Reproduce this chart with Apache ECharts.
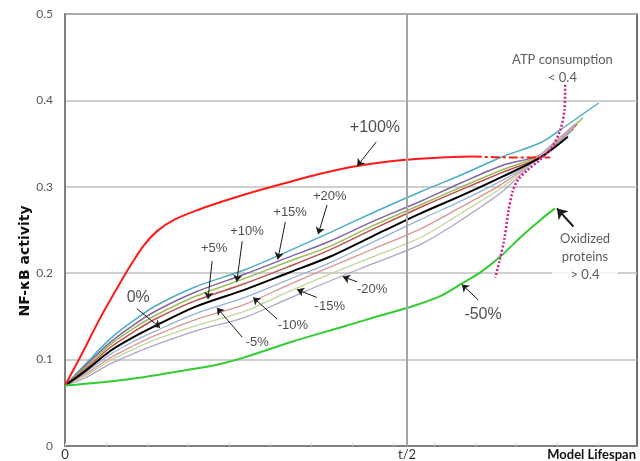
<!DOCTYPE html>
<html><head><meta charset="utf-8">
<script src="https://cdn.jsdelivr.net/npm/echarts@6/dist/echarts.min.js"></script>
<style>html,body{margin:0;padding:0;background:#fff}#c{width:640px;height:461px}</style>
</head><body><div id="c"></div>
<script>
// ---- data (x: model time, t/2 = 50; y: NF-kB activity) ----
const xMax = 83.6;
const halfLife = 50;
const yTicks = [0, 0.1, 0.2, 0.3, 0.4, 0.5];

const plus20  = [[0,.070],[3,.095],[6.6,.124],[10,.145],[13.2,.162],[19,.184],[26.3,.204],[32.5,.225],[38.7,.247],[45,.270],[51.9,.294],[58,.314],[64,.335],[69.5,.351],[72.4,.366],[78,.397]];
const plus15  = [[0,.070],[3,.093],[6.6,.120],[10,.140],[13.2,.156],[19,.178],[26.3,.199],[32.5,.218],[38.7,.237],[45,.260],[51.9,.283],[58,.305],[64,.325],[69.5,.337],[74.3,.367]];
const plus10  = [[0,.070],[3,.091],[6.6,.117],[10,.136],[13.2,.151],[19,.173],[26.3,.194],[32.5,.213],[38.7,.231],[45,.255],[51.9,.279],[58,.300],[64,.320],[69.5,.337],[75.7,.380]];
const plus5   = [[0,.070],[3,.089],[6.6,.114],[10,.132],[13.2,.147],[19,.168],[26.3,.188],[32.5,.207],[38.7,.227],[45,.251],[51.9,.276],[58,.297],[64,.317],[69.5,.335],[74.8,.372]];
const zero    = [[0,.070],[3,.087],[6.6,.110],[10,.126],[13.2,.139],[19,.161],[26.3,.181],[32.5,.200],[38.7,.219],[45,.243],[51.9,.269],[58,.290],[64,.312],[69.5,.334],[73.5,.358]];
const minus5  = [[0,.070],[3,.085],[6.6,.106],[10,.121],[13.2,.133],[19,.153],[26.3,.172],[32.5,.192],[38.7,.212],[45,.236],[51.9,.262],[58,.284],[64,.308],[69.5,.334],[74.2,.366]];
const minus10 = [[0,.070],[3,.083],[6.6,.102],[10,.116],[13.2,.128],[19,.146],[26.3,.164],[32.5,.186],[38.7,.207],[45,.228],[51.9,.251],[58,.277],[64,.304],[69.5,.335],[74.5,.370]];
const minus15 = [[0,.070],[3,.081],[6.6,.099],[10,.112],[13.2,.123],[19,.139],[26.3,.156],[32.5,.178],[38.7,.199],[45,.219],[51.9,.241],[58,.270],[64,.300],[69.5,.336],[75,.376]];
const minus20 = [[0,.070],[3,.079],[6.6,.095],[10,.107],[13.2,.117],[19,.133],[26.3,.149],[32.5,.170],[38.7,.191],[45,.211],[51.9,.233],[58,.262],[64,.295],[69.5,.337],[74.5,.372]];
const plus100 = [[0,.070],[2.5,.107],[5,.146],[7.5,.181],[9.5,.208],[11.5,.232],[13.5,.249],[16,.262],[19.7,.274],[23,.283],[27.5,.294],[32.5,.305],[37.3,.315],[42.7,.324],[49.4,.331],[55,.334],[59.6,.335]];
const plus100Dashed = [[59.6,.335],[65,.334],[70.9,.334]];
const minus50 = [[0,.070],[9.1,.077],[18.7,.089],[22.7,.095],[26,.102],[33.3,.121],[40.6,.138],[46.1,.151],[50.9,.162],[55,.174],[58.2,.189],[60.7,.201],[63.6,.219],[66.5,.241],[69.4,.261],[71.6,.275]];
const atpLimit = [[73.1,.418],[73.0,.389],[72.4,.366],[71.2,.346],[69.4,.331],[67.7,.320],[66.2,.308],[65.4,.294],[64.8,.271],[64.2,.239],[63.5,.214],[62.9,.195]];

// annotation texts: [x, y, text, fontSize]
const labelTexts = [
  [45.3,.368,'+100%',16],[10.7,.172,'0%',16],[21.8,.229,'+5%',13],[26.6,.248,'+10%',13],
  [32.9,.270,'+15%',13],[38.7,.289,'+20%',13],[28.1,.120,'-5%',13],[33.3,.139,'-10%',13],
  [38.7,.161,'-15%',13],[44.9,.181,'-20%',13],[61.1,.152,'-50%',16]
];
// arrows: [x1, y1, x2, y2]
const arrows = [
  [45.5,.352,42.7,.324],[10.5,.159,13.9,.137],[21.5,.214,20.9,.170],[25.9,.237,25.1,.190],
  [32.2,.259,31.1,.216],[38.3,.279,37.0,.245],[25.9,.126,22.2,.160],[31.0,.147,27.5,.172],
  [36.8,.172,33.9,.181],[42.7,.190,40.6,.196],[60.4,.169,58.0,.187]
];
const oxArrow = [74.3,.254,71.9,.275];
const oxText = [76.0,.219,'Oxidized\nproteins\n> 0.4'];
const atpText = [72.7,.437,'ATP consumption\n< 0.4'];

const bundle = [
  ['+20%', plus20, '#4bacc6', 1.5],
  ['+15%', plus15, '#8064a2', 1.5],
  ['+10%', plus10, '#9bbb59', 1.5],
  ['+5%', plus5, '#c0504d', 1.5],
  ['-5%', minus5, '#95b3d7', 1.3],
  ['-10%', minus10, '#d99694', 1.3],
  ['-15%', minus15, '#c3d69b', 1.3],
  ['-20%', minus20, '#b3a2c7', 1.3],
  ['0%', zero, '#000000', 2]
];

const chart = echarts.init(document.getElementById('c'), null, {renderer:'canvas'});
const series = [];
bundle.forEach(b => series.push({
  name: b[0], type:'line', data: b[1], smooth: 0.3, showSymbol:false,
  lineStyle:{color:b[2], width:b[3]}, z:2
}));
series.push({name:'+100%', type:'line', data: plus100, smooth:0.3, showSymbol:false,
  lineStyle:{color:'#ff1a1a', width:2}, z:3});
series.push({name:'+100% tail', type:'line', data: plus100Dashed, smooth:0.3, showSymbol:false,
  lineStyle:{color:'#ff1a1a', width:2, type:[9,3,3,3]}, z:3});
series.push({name:'-50%', type:'line', data: minus50, smooth:0.3, showSymbol:false,
  lineStyle:{color:'#33cc33', width:2}, z:3});
series.push({name:'ATP', type:'line', data: atpLimit, smooth:0.3, showSymbol:false,
  lineStyle:{color:'#cc1f8a', width:2.5, type:[2,2]}, z:4});

// t/2 vertical line
series.push({type:'line', data:[], z:1, silent:true,
  markLine:{silent:true, symbol:['none','none'],
    lineStyle:{color:'#a6a6a6', width:2, type:'solid'},
    label:{show:true, position:'start', formatter:'t/2', color:'#333', fontFamily:'Lato', fontSize:13, distance:2},
    data:[{xAxis: halfLife}]}});

// arrows
series.push({type:'line', data:[], z:5, silent:true,
  markLine:{silent:true, symbol:['none','arrow'], symbolSize:7, label:{show:false},
    lineStyle:{color:'#1a1a1a', width:1, type:'solid'},
    data: arrows.map(a => [{coord:[a[0],a[1]]},{coord:[a[2],a[3]]}]).concat([
      [{coord:[oxArrow[0],oxArrow[1]], lineStyle:{width:2}},{coord:[oxArrow[2],oxArrow[3]], symbolSize:10, lineStyle:{width:2}}]
    ])}});

// text labels
series.push({type:'scatter', symbolSize:0, z:6, silent:true,
  data: labelTexts.map(t => ({value:[t[0],t[1]], label:{show:true, position:'inside',
    formatter:t[2], fontSize:t[3], color:'#222', fontFamily:'Liberation Sans, Arial'}})).concat([
    {value:[oxText[0],oxText[1]], label:{show:true, position:'inside', formatter:oxText[2], fontSize:13,
      lineHeight:18, color:'#333', fontFamily:'Lato', backgroundColor:'#fff', padding:[0,8], align:'center'}},
    {value:[atpText[0],atpText[1]], label:{show:true, position:'inside', formatter:atpText[2], fontSize:13,
      lineHeight:18, color:'#333', fontFamily:'Lato', align:'center'}}
  ])});

chart.setOption({
  animation:false,
  backgroundColor:'#fff',
  grid:{left:65, right:3, top:14, bottom:14, show:true, borderColor:'#404040', borderWidth:1.5, containLabel:false},
  xAxis:{type:'value', min:0, max:xMax, interval:6,
    axisLine:{show:true, lineStyle:{color:'#7f7f7f', width:2}},
    axisTick:{show:true, length:3, inside:true, lineStyle:{color:'#d0d0d0'}},
    splitLine:{show:false},
    axisLabel:{showMaxLabel:false, margin:2, color:'#333', fontFamily:'Lato', fontSize:13,
      formatter: v => v === 0 ? '0' : ''}
  },
  yAxis:{type:'value', min:0, max:0.5, interval:0.1,
    axisLine:{show:true, lineStyle:{color:'#7f7f7f', width:2}},
    axisTick:{show:false},
    splitLine:{show:true, lineStyle:{color:'#bfbfbf', width:1.5}},
    axisLabel:{margin:12, color:'#595959', fontFamily:'Lato', fontSize:12,
      formatter: v => yTicks.includes(Math.round(v*10)/10) ? String(Math.round(v*10)/10) : ''}
  },
  graphic:[
    {type:'text', x:25, y:261, rotation:Math.PI/2, style:{text:'NF-κB activity', fontFamily:'DejaVu Sans', fontWeight:'bold',
      fontSize:14, fill:'#111', align:'center', verticalAlign:'middle'}},
    {type:'text', right:4, y:448, style:{text:'Model Lifespan', fontFamily:'Lato', fontWeight:'bold', fontSize:13, fill:'#111'}}
  ],
  series: series
});
</script></body></html>
